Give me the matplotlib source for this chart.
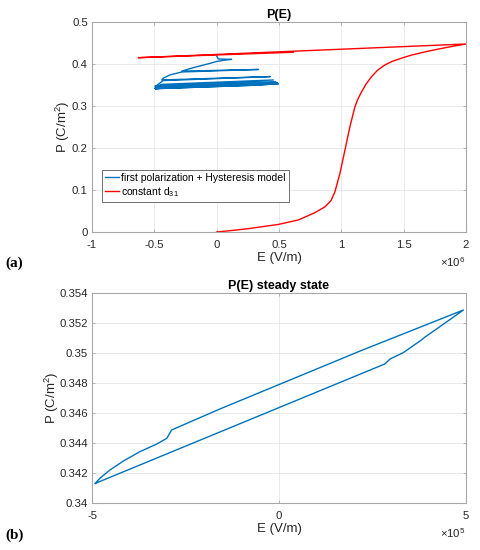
import matplotlib
matplotlib.use('Agg')
import matplotlib.pyplot as plt
from matplotlib.ticker import FuncFormatter, FixedLocator

plt.rcParams['font.family'] = ['Liberation Sans', 'DejaVu Sans']
plt.rcParams['axes.unicode_minus'] = False
plt.rcParams['mathtext.fontset'] = 'custom'
plt.rcParams['mathtext.rm'] = 'Liberation Sans'
plt.rcParams['mathtext.it'] = 'Liberation Sans:italic'
plt.rcParams['mathtext.bf'] = 'Liberation Sans:bold'

# ---- data (panel a), E in units of 1e6 V/m ----
red_E = [0.0, 0.12, 0.254, 0.494, 0.655, 0.788, 0.869, 0.917, 0.949, 0.989, 1.029,
         1.069, 1.109, 1.135, 1.163, 1.2, 1.243, 1.29, 1.35, 1.41, 1.484, 1.56, 1.644,
         1.72, 1.804, 1.9, 2.0, -0.629, 0.614]
red_P = [0.0, 0.0035, 0.008, 0.018, 0.0286, 0.046, 0.060, 0.0746, 0.096, 0.140, 0.195,
         0.251, 0.298, 0.318, 0.334, 0.353, 0.370, 0.385, 0.398, 0.4065, 0.414, 0.421, 0.427,
         0.432, 0.437, 0.4425, 0.4476, 0.415, 0.428]

blue_E = [0.0, 0.013, 0.12, 0.06, 0.0, -0.06, -0.19, -0.28,
          0.335, -0.28, -0.375, -0.43, -0.44,
          0.43, -0.43, -0.48, -0.495,
          0.455, -0.44, -0.492,
          0.47, -0.45, -0.492,
          0.48, -0.46, -0.492,
          0.487, -0.47, -0.492,
          0.49, -0.48, -0.492]
blue_P = [0.419, 0.412, 0.411, 0.409, 0.406, 0.401, 0.391, 0.383,
          0.387, 0.381, 0.374, 0.366, 0.362,
          0.370, 0.3605, 0.349, 0.347,
          0.362, 0.3515, 0.345,
          0.358, 0.349, 0.3435,
          0.356, 0.347, 0.3425,
          0.3545, 0.3455, 0.342,
          0.3537, 0.344, 0.3416]

# ---- data (panel b), steady-state loop, E in units of 1e5 V/m ----
ss_E = [-4.91, 2.83, 2.97, 3.32, 3.81, 3.88, 4.39, 4.93,
        2.166, -1.578, -2.87, -3.0, -3.27, -3.72, -4.16, -4.52, -4.79, -4.91]
ss_P = [0.34131, 0.34927, 0.3496, 0.35002, 0.35087, 0.35102, 0.35191, 0.352867,
        0.35013, 0.34627, 0.34487, 0.34431, 0.34393, 0.34342, 0.3428, 0.3422, 0.34165, 0.34131]

a_xticks = [-1, -0.5, 0, 0.5, 1, 1.5, 2]
a_yticks = [0, 0.1, 0.2, 0.3, 0.4, 0.5]
b_xticks = [-5, 0, 5]
b_yticks = [0.34, 0.342, 0.344, 0.346, 0.348, 0.35, 0.352, 0.354]

BLUE = '#0072BD'
RED = '#FF0000'
TXT = '#262626'
SPINE = '#a8a8a8'
GRID = '#e6e6e6'

fig = plt.figure(figsize=(4.81, 5.5), dpi=100)
axA = fig.add_axes([92/481, 1-232/550, 374/481, 210/550])
axB = fig.add_axes([92/481, 1-503/550, 374/481, 210/550])


def style(ax):
    for s in ax.spines.values():
        s.set_color(SPINE)
        s.set_linewidth(0.8)
    ax.tick_params(direction='in', length=2.5, width=0.6, color=SPINE,
                   labelcolor=TXT, labelsize=8.2, top=True, right=True)
    ax.tick_params(axis='x', pad=5.5)
    ax.tick_params(axis='y', pad=3)
    ax.grid(True, color=GRID, linewidth=0.6)
    ax.set_axisbelow(True)

fmt = FuncFormatter(lambda v, p: '%g' % v)

# panel (a)
s6 = 1e6
axA.plot([e*s6 for e in blue_E] + [e*1e5 for e in ss_E] + [e*1e5 for e in ss_E],
         blue_P + ss_P + ss_P, color=BLUE, lw=1.0, label='first polarization + Hysteresis model')
axA.plot([e*s6 for e in red_E], red_P, color=RED, lw=1.0, label='constant d$_{31}$')
axA.set_xlim(-1e6, 2e6)
axA.set_ylim(0, 0.5)
axA.xaxis.set_major_locator(FixedLocator([t*s6 for t in a_xticks]))
axA.xaxis.set_major_formatter(FuncFormatter(lambda v, p: '%g' % (v/s6)))
axA.yaxis.set_major_locator(FixedLocator(a_yticks))
axA.yaxis.set_major_formatter(fmt)
style(axA)
axA.set_title('P(E)', fontsize=9, fontweight='bold', color='black', pad=3)
axA.set_xlabel('E (V/m)', fontsize=9.5, color=TXT, labelpad=2)
axA.set_ylabel('P (C/m$^2$)', fontsize=9.5, color=TXT, labelpad=0)
axA.text(1.0, -0.145, r'$\times$10$^{6}$', transform=axA.transAxes, ha='right',
         va='center', fontsize=8.2, color=TXT)
leg = axA.legend(loc='lower left', bbox_to_anchor=(0.027, 0.143), borderaxespad=0,
                 fontsize=7.5, fancybox=False, edgecolor='#555555', framealpha=1,
                 handlelength=1.3, handletextpad=0.25, borderpad=0.3, labelspacing=0.2)
leg.get_frame().set_linewidth(0.6)

# panel (b)
s5 = 1e5
axB.plot([e*s5 for e in ss_E], ss_P, color=BLUE, lw=1.0)
axB.set_xlim(-5e5, 5e5)
axB.set_ylim(0.34, 0.354)
axB.xaxis.set_major_locator(FixedLocator([t*s5 for t in b_xticks]))
axB.xaxis.set_major_formatter(FuncFormatter(lambda v, p: '%g' % (v/s5)))
axB.yaxis.set_major_locator(FixedLocator(b_yticks))
axB.yaxis.set_major_formatter(fmt)
style(axB)
axB.set_title('P(E) steady state', fontsize=9, fontweight='bold', color='black', pad=3)
axB.set_xlabel('E (V/m)', fontsize=9.5, color=TXT, labelpad=2)
axB.set_ylabel('P (C/m$^2$)', fontsize=9.5, color=TXT, labelpad=-1)
axB.text(1.0, -0.145, r'$\times$10$^{5}$', transform=axB.transAxes, ha='right',
         va='center', fontsize=8.2, color=TXT)

fig.text(5/481, 1-263/550, '(a)', fontsize=11, fontweight='bold',
         family='Liberation Serif', va='center', ha='left')
fig.text(5/481, 1-535/550, '(b)', fontsize=11, fontweight='bold',
         family='Liberation Serif', va='center', ha='left')

fig.savefig('out.png', dpi=100)
